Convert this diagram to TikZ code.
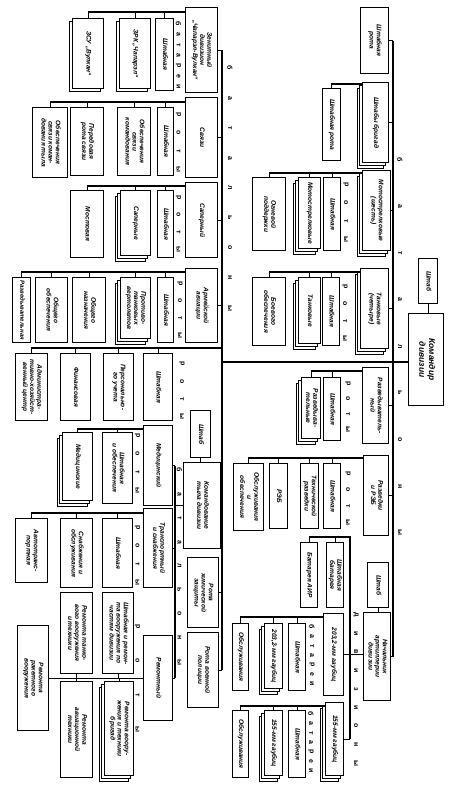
\documentclass[tikz,border=0pt]{standalone}
\usepackage{fontspec}
\setmainfont{Liberation Sans}
\usepackage{graphicx}
\usetikzlibrary{shadows,calc}
\newcommand\fs{\fontsize{6.6}{7.2}\selectfont\bfseries\itshape}
\newcommand\fss{\fontsize{6}{7}\selectfont\bfseries\itshape}
\newcommand\fsl{\fontsize{7}{8}\selectfont\bfseries}
\newcommand\fsk{\fontsize{8.5}{9.6}\selectfont\bfseries\itshape}
\newcommand\R[1]{\rotatebox{-90}{\begin{tabular}{@{}c@{}}#1\end{tabular}}}
\newcommand\bx[7][]{\node[box,#1,minimum width={(#4)-(#2)},minimum height={(#5)-(#3)},anchor=north west] (#6) at (#2,#3) {\R{#7}};}
\newcommand\spl[5]{\foreach \c [count=\i] in {#5} {\node[lbl] (#1\i) at (#2,{#3+#4*(\i-1)}) {\rotatebox{-90}{\c}};}}
\newcommand\grp[4]{\coordinate (#1L) at ([yshift=-#4pt]#1.north west); \draw[conn] (#1L) -| (#2.north); \foreach \n in {#3} {\draw[conn] (\n.north) -- (\n.north |- #1L);}}
\tikzset{
  box/.style={draw, line width=1.3pt, fill=white, inner sep=0pt, font=\fs},
  conn/.style={line width=1.1pt},
  lbl/.style={inner sep=0pt, font=\fsl},
  stack/.style={copy shadow={shadow xshift=-5.5pt,shadow yshift=-5.5pt,draw=black,fill=white,line width=1.2pt},
                copy shadow={shadow xshift=-2.8pt,shadow yshift=-2.8pt,draw=black,fill=white,line width=1.2pt}},
  stackone/.style={copy shadow={shadow xshift=-2.8pt,shadow yshift=-2.8pt,draw=black,fill=white,line width=1.2pt}}
}
\begin{document}
\begin{tikzpicture}[x=1pt,y=-1pt]
\fill[white] (0,0) rectangle (450,800);
\useasboundingbox (0,0) rectangle (450,800);

% ---------- right column ----------
\bx{360}{7}{388}{73}{shr}{Штабная\\рота}
\bx[stack]{362}{82}{388}{162}{shb}{Штабы бригад}
\bx{322}{88}{340}{160}{shbr}{Штабная рота}
\bx[stack]{362}{170}{390}{250}{ms}{Мотострелковые\\(шесть)}
\bx{323}{177}{340}{250}{ms1}{Штабная}
\bx[stack]{298}{177}{320}{248}{ms2}{Мотострелковые}
\bx{252}{177}{285}{250}{ms3}{Огневой\\поддержки}
\bx[stack]{360}{268}{388}{348}{tk}{Танковые\\(четыре)}
\bx{322}{277}{339}{345}{tk1}{Штабная}
\bx[stack]{298}{277}{320}{343}{tk2}{Танковые}
\bx{252}{277}{285}{345}{tk3}{Боевого\\обеспечения}
\bx{362}{367}{388}{443}{rz}{Разведыватель-\\ный}
\bx{323}{377}{340}{440}{rz1}{Штабная}
\bx[stack]{301}{377}{320}{438}{rz2}{Разведыва-\\тельные}
\bx{363}{455}{388}{535}{reb}{Разведки\\и РЭБ}
\bx{323}{463}{340}{528}{reb1}{Штабная}
\bx{300}{463}{318}{528}{reb2}{Технической\\разведки}
\bx{269}{463}{287}{528}{reb3}{РЭБ}
\bx{233}{463}{263}{530}{reb4}{Обслуживания\\и\\обеспечения}
\bx{418}{258}{437}{303}{shtab}{Штаб}
\bx[font=\fsk]{408}{313}{443}{405}{kd}{Командир\\дивизии}
\bx{367}{562}{388}{607}{ashtab}{Штаб}
\bx{363}{612}{390}{700}{nart}{Начальник\\артиллерии\\дивизии}
\bx{326}{542}{343}{607}{ab1}{Штабная\\батарея}
\bx{300}{542}{317}{607}{ab2}{Батарея АИР}
\bx{323}{613}{343}{695}{g203}{203,2-мм гаубиц}
\bx{288}{623}{305}{690}{g203a}{Штабная}
\bx[stack]{264}{623}{282}{688}{g203b}{203,2-мм гаубиц}
\bx{232}{623}{248}{690}{g203c}{Обслуживания}
\bx[stack]{325}{702}{343}{775}{g155}{155-мм гаубиц}
\bx{288}{710}{305}{777}{g155a}{Штабная}
\bx[stack]{264}{710}{282}{775}{g155b}{155-мм гаубиц}
\bx{232}{710}{248}{777}{g155c}{Обслуживания}

% ---------- left column ----------
\bx{185}{7}{217}{92}{zen}{Зенитный\\дивизион\\„Чапарэл-Вулкан“}
\bx{155}{18}{173}{90}{zen1}{Штабная}
\bx[stackone]{119}{18}{150}{88}{zen2}{ЗРК „Чапарэл“}
\bx[stackone]{72}{18}{103}{88}{zen3}{ЗСУ „Вулкан“}
\bx{185}{97}{217}{177}{sv}{Связи}
\bx{157}{107}{173}{175}{sv1}{Штабная}
\bx{117}{107}{150}{175}{sv2}{Обеспечения\\связи\\командования}
\bx{70}{107}{103}{175}{sv3}{Передовая\\рота связи}
\bx{32}{107}{67}{177}{sv4}{Обеспечения\\связи коман-\\дования тыла}
\bx{185}{182}{217}{257}{sap}{Саперный}
\bx{157}{190}{173}{257}{sap1}{Штабная}
\bx[stack]{120}{190}{150}{255}{sap2}{Саперные}
\bx{70}{190}{103}{257}{sap3}{Мостовая}
\bx{185}{268}{217}{342}{av}{Армейской\\авиации}
\bx{157}{277}{173}{342}{av1}{Штабная}
\bx[stack]{120}{277}{150}{338}{av2}{Противо-\\танковых\\вертолетов}
\bx{72}{277}{105}{342}{av3}{Общего\\назначения}
\bx{35}{277}{67}{342}{av4}{Общего\\обеспечения}
\bx[font=\fss]{12}{277}{30}{342}{av5}{Разведывательная}
\bx{143}{353}{172}{420}{ad1}{Штабная}
\bx{103}{353}{133}{420}{ad2}{Персонально-\\го учета}
\bx{60}{353}{90}{420}{ad3}{Финансовая}
\bx{15}{353}{47}{420}{ad4}{Администра-\\тивно-хозяйст-\\венный центр}
\bx{190}{410}{210}{457}{dshtab}{Штаб}
\bx{183}{462}{220}{548}{disc}{Командование\\тыла дивизии}
\bx{143}{425}{172}{505}{med}{Медицинский}
\bx{102}{432}{132}{503}{med1}{Штабная\\и обеспечения}
\bx[stack]{62}{432}{92}{500}{med2}{Медицинские}
\bx{143}{508}{172}{587}{trn}{Транспортный\\и снабжения}
\bx{102}{518}{132}{587}{trn1}{Штабная}
\bx{60}{518}{92}{587}{trn2}{Снабжения и\\обслуживания}
\bx{15}{518}{47}{582}{trn3}{Автотранс-\\портная}
\bx{143}{635}{172}{720}{rem}{Ремонтный}
\bx{102}{592}{133}{673}{rem1}{Штабная и ремон-\\та вооружения по\\частям дивизии}
\bx{60}{592}{92}{673}{rem2}{Ремонта танко-\\вого вооружения\\и техники}
\bx[stack]{104}{681}{133}{775}{rem3}{Ремонта воору-\\жения и техники\\бригад}
\bx{60}{681}{92}{777}{rem4}{Ремонта\\авиационной\\техники}
\bx{17}{625}{48}{730}{rem5}{Ремонта\\ракетного\\вооружения}
\bx{187}{557}{218}{627}{chem}{Рота\\химической\\защиты}
\bx{187}{632}{218}{707}{mp}{Рота военной\\полиции}

% ---------- connectors ----------
\coordinate (bR) at (393,0);
\coordinate (bL) at (222,0);
\coordinate (lk) at (222,362);
\draw[conn] (shr.east -| bR) -- (nart.east -| bR);
\foreach \n in {shr,shb,ms,tk,rz,reb,nart} {\draw[conn] (\n.east) -- (\n.east -| bR);}
\draw[conn] (kd.west |- lk) -- (lk);
\draw[conn] (shtab.south) -- (shtab.south |- kd.north);
\draw[conn] (zen.east -| bL) -- (mp.east -| bL);
\foreach \n in {zen,sv,sap,av,disc,chem,mp} {\draw[conn] (\n.east) -- (\n.east -| bL);}
\coordinate (adL) at (222,348);
\draw[conn] (adL) -| (ad4.north);
\foreach \n in {ad1,ad2,ad3} {\draw[conn] (\n.north) -- (\n.north |- adL);}

\draw[conn] ([yshift=-2pt]shb.north west) -| (shbr.north);
\grp{ms}{ms3}{ms1,ms2}{3}
\grp{tk}{tk3}{tk1,tk2}{4}
\grp{rz}{rz2}{rz1}{4}
\grp{reb}{reb4}{reb1,reb2,reb3}{3}
\grp{g203}{g203c}{g203a,g203b}{4}
\grp{g155}{g155c}{g155a,g155b}{4}
\grp{zen}{zen3}{zen1,zen2}{5}
\grp{sv}{sv4}{sv1,sv2,sv3}{5}
\grp{sap}{sap3}{sap1,sap2}{4}
\grp{av}{av5}{av1,av2,av3,av4}{4}
\grp{med}{med2}{med1}{4}
\grp{trn}{trn3}{trn1,trn2}{5}

\coordinate (aT) at (350,537);
\draw[conn] (ab2.north |- aT) -- (aT) -- (g155.east -| aT);
\foreach \n in {ab1,ab2} {\draw[conn] (\n.north) -- (\n.north |- aT);}
\draw[conn] (g203.east) -- (g203.east -| nart.west);
\draw[conn] (g155.east) -- (g155.east -| aT);
\draw[conn] (ashtab.south) -- (ashtab.south |- nart.north);

\draw[conn] (dshtab.south) -- (dshtab.south |- disc.north);
\coordinate (dX) at (175,0);
\draw[conn] (med.east -| dX) -- (rem.east -| dX);
\foreach \n in {med,trn,rem} {\draw[conn] (\n.east) -- (\n.east -| dX);}
\draw[conn] (disc.west) -- (disc.west -| dX);
\draw[conn] (rem.west) -- (rem5.east |- rem.west);
\foreach \n in {rem1,rem2} {\draw[conn] (\n.south) -- (\n.south |- rem.west);}
\foreach \n in {rem3,rem4} {\draw[conn] (\n.north) -- (\n.north |- rem.west);}

% ---------- spaced labels ----------
\spl{lbR}{400}{160}{46.6}{б,а,т,а,л,ь,о,н,ы}
\spl{lbL}{230}{68}{30}{б,а,т,а,л,ь,о,н,ы}
\spl{lbD}{179.5}{470}{24}{б,а,т,а,л,ь,о,н,ы}
\spl{lbZ}{178.5}{24}{10.5}{б,а,т,а,р,е,и}
\spl{lbSv}{178.5}{115}{18}{р,о,т,ы}
\spl{lbSap}{178.5}{198}{17}{р,о,т,ы}
\spl{lbAv}{180}{284}{17}{р,о,т,ы}
\spl{lbAd}{182}{364}{17.5}{р,о,т,ы}
\spl{lbMed}{137.5}{436}{18}{р,о,т,ы}
\spl{lbTrn}{137.5}{528}{18}{р,о,т,ы}
\spl{lbRem}{137.5}{627}{34}{р,о,т,ы}
\spl{lbMs}{346}{185}{18}{р,о,т,ы}
\spl{lbTk}{345}{287}{17}{р,о,т,ы}
\spl{lbRz}{348}{384}{15}{р,о,т,ы}
\spl{lbReb}{348}{474}{16}{р,о,т,ы}
\spl{lbArt}{356}{615}{18.5}{д,и,в,и,з,и,о,н,ы}
\spl{lbBa}{312}{627}{9.5}{б,а,т,а,р,е,и}
\spl{lbBb}{311}{714}{9.5}{б,а,т,а,р,е,и}
\end{tikzpicture}
\end{document}
